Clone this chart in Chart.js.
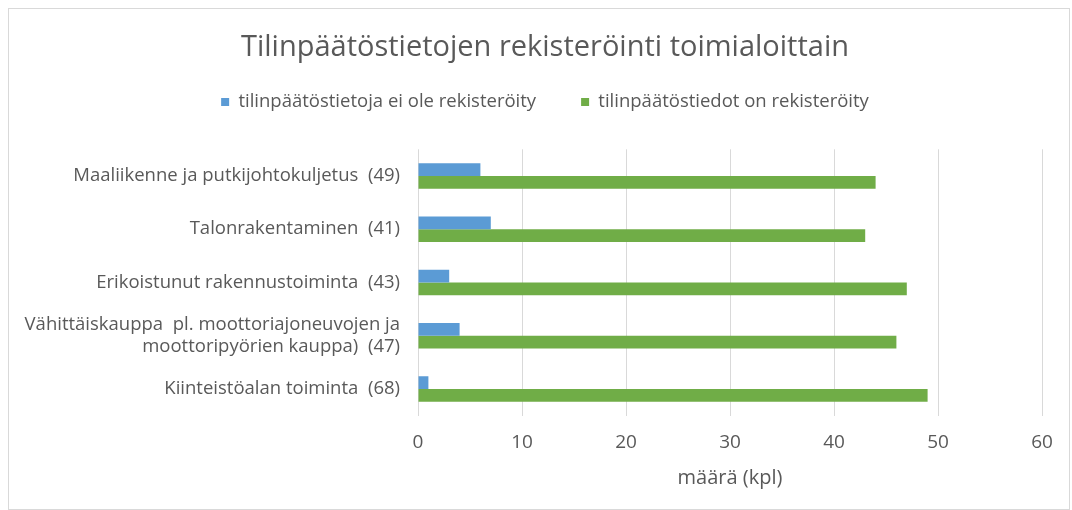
<!DOCTYPE html>
<html lang="fi">
<head>
<meta charset="UTF-8">
<title>Tilinpäätöstietojen rekisteröinti toimialoittain</title>
<script src="https://cdn.jsdelivr.net/npm/chart.js"></script>
<style>
    body {
        margin: 0;
        background: #ffffff;
    }
    .frame {
        position: absolute;
        left: 8px;
        top: 8px;
        width: 1060px;
        height: 500px;
        border: 1px solid #d9d9d9;
    }
</style>
</head>
<body>

<div class="frame">
    <canvas id="chart" width="1060" height="500"></canvas>
</div>

<script>
    const categories = [
        "Maaliikenne ja putkijohtokuljetus  (49)",
        "Talonrakentaminen  (41)",
        "Erikoistunut rakennustoiminta  (43)",
        ["Vähittäiskauppa  pl. moottoriajoneuvojen ja", "moottoripyörien kauppa)  (47)"],
        "Kiinteistöalan toiminta  (68)"
    ];
    const notRegistered = [6, 7, 3, 4, 1];
    const registered = [44, 43, 47, 46, 49];
    const seriesNames = ["tilinpäätöstietoja ei ole rekisteröity", "tilinpäätöstiedot on rekisteröity"];

    const textColor = '#595959';
    const gridColor = '#d9d9d9';
    const font = "'Open Sans', Lato, sans-serif";

    // extra room between the legend and the plot
    const legendSpacer = {
        id: 'legendSpacer',
        beforeInit(chart) {
            const fit = chart.legend.fit;
            chart.legend.fit = function () {
                fit.call(this);
                this.height += 28;
            };
        }
    };

    new Chart(document.getElementById('chart'), {
        type: 'bar',
        data: {
            labels: categories,
            datasets: [
                { label: seriesNames[0], data: notRegistered, backgroundColor: '#5b9bd5' },
                { label: seriesNames[1], data: registered, backgroundColor: '#70ad47' }
            ]
        },
        plugins: [legendSpacer],
        options: {
            indexAxis: 'y',
            responsive: false,
            animation: false,
            categoryPercentage: 0.48,
            barPercentage: 1.0,
            layout: { padding: { top: 0, left: 39, right: 27, bottom: 19 } },
            plugins: {
                title: {
                    display: true,
                    text: 'Tilinpäätöstietojen rekisteröinti toimialoittain',
                    color: textColor,
                    font: { family: font, size: 29, weight: 'normal' },
                    padding: { top: 21, bottom: -17 }
                },
                legend: {
                    position: 'top',
                    labels: {
                        color: textColor,
                        font: { family: font, size: 18.5 },
                        boxWidth: 8,
                        boxHeight: 8,
                        padding: 45
                    }
                },
                tooltip: { enabled: false }
            },
            scales: {
                x: {
                    min: 0,
                    max: 60,
                    ticks: {
                        stepSize: 10,
                        color: textColor,
                        font: { family: font, size: 19 },
                        padding: 6
                    },
                    grid: { color: gridColor, tickLength: 10, tickColor: 'transparent' },
                    border: { display: false },
                    title: {
                        display: true,
                        text: 'määrä (kpl)',
                        color: textColor,
                        font: { family: font, size: 20 },
                        padding: { top: 5.6, bottom: 0 }
                    }
                },
                y: {
                    afterFit: function (scale) {
                        scale.width = 370;
                        // long labels may run into the left padding
                        scale._computeLabelArea = function () { return undefined; };
                    },
                    ticks: {
                        color: textColor,
                        font: { family: font, size: 18.5 },
                        padding: 18
                    },
                    grid: { display: false, drawTicks: false },
                    border: { display: false }
                }
            }
        }
    });
</script>

</body>
</html>
